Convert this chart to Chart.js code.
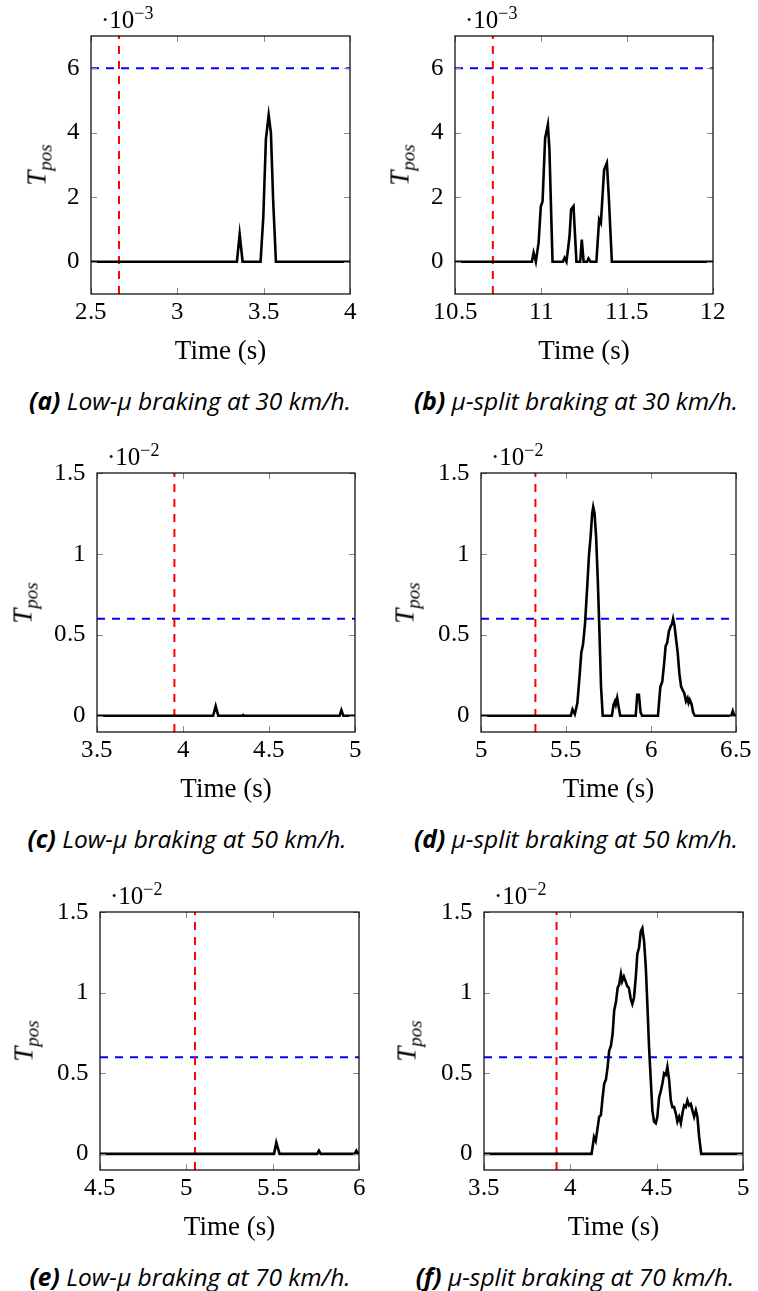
<!DOCTYPE html>
<html>
<head>
<meta charset="utf-8">
<script src="https://cdn.jsdelivr.net/npm/chart.js@4.4.1/dist/chart.umd.min.js"></script>
<style>
  @font-face { font-family: "TickSerif"; src: local("Liberation Serif"), local("LiberationSerif"), local("LiberationSerif-Regular"); }
  html, body { margin: 0; padding: 0; background: #fff; }
  #page { position: relative; width: 758px; height: 1291px; background: #fff; overflow: hidden; }
  canvas { position: absolute; }
  .expo { position: absolute; font-family: "Liberation Serif", serif; font-size: 25px; line-height: 30px; height: 30px; white-space: nowrap; color: #000; }
  .expo span { font-size: 18px; position: relative; top: -9px; }
  .ylab { position: absolute; font-family: "Liberation Serif", serif; font-style: italic; font-size: 27px; white-space: nowrap; color: #000;
          transform: translate(-50%, -50%) rotate(-90deg); }
  .ylab span { font-size: 19px; position: relative; top: 6px; }
  .cap { position: absolute; font-family: "Open Sans", sans-serif; font-style: italic; font-size: 24.5px; white-space: nowrap; color: #000;
         transform: translate(-50%, -50%); }
</style>
</head>
<body>
<div id="page"></div>
<script>
// ---- data (values in axis units: x10^-3 for a,b and x10^-2 for c-f) ----
const aTime = [2.5, 3.345, 3.361, 3.378, 3.482, 3.498, 3.513, 3.529, 3.542, 3.555, 3.571, 4.0];
const aVal  = [0, 0, 0.85, 0, 0, 1.4, 3.8, 4.55, 4.0, 1.9, 0, 0];

const bTime = [10.5, 10.947, 10.957, 10.97, 10.986, 10.999, 11.009, 11.024, 11.040, 11.049, 11.067,
               11.127, 11.137, 11.148, 11.166, 11.175, 11.189, 11.206, 11.228, 11.237, 11.248,
               11.268, 11.276, 11.288, 11.322, 11.338, 11.348, 11.367, 11.383, 11.394, 11.412, 12];
const bVal  = [0, 0, 0.28, 0, 0.59, 1.72, 1.87, 3.83, 4.25, 3.47, 0,
               0, 0.12, 0, 0.79, 1.62, 1.72, 0, 0, 0.69, 0,
               0, 0.1, 0, 0, 1.31, 1.2, 2.85, 3.06, 2.03, 0, 0];

const cTime = [3.5, 4.175, 4.19, 4.205, 4.345, 4.35, 4.355, 4.91, 4.921, 4.932, 5.0];
const cVal  = [0, 0, 0.06, 0, 0, 0.005, 0, 0, 0.035, 0, 0];

const dTime = [5, 5.528, 5.538, 5.552, 5.567, 5.581, 5.59, 5.6, 5.612, 5.625, 5.635, 5.645, 5.654, 5.66,
               5.668, 5.677, 5.687, 5.697, 5.706, 5.716, 5.77, 5.78, 5.788, 5.793, 5.801, 5.809, 5.819,
               5.91, 5.919, 5.929, 5.939, 5.948, 6.041, 6.055, 6.066, 6.076, 6.086, 6.095, 6.105, 6.115,
               6.124, 6.13, 6.138, 6.148, 6.157, 6.167, 6.177, 6.186, 6.196, 6.206, 6.215, 6.221, 6.228,
               6.239, 6.248, 6.258, 6.472, 6.481, 6.49, 6.5];
const dVal  = [0, 0, 0.04, 0.01, 0.08, 0.26, 0.39, 0.44, 0.57, 0.80, 0.99, 1.11, 1.25, 1.29,
               1.25, 1.11, 0.84, 0.51, 0.18, 0, 0, 0.07, 0.09, 0.07, 0.11, 0.06, 0,
               0, 0.13, 0.13, 0.02, 0, 0, 0.18, 0.21, 0.31, 0.43, 0.45, 0.52, 0.55,
               0.57, 0.6, 0.56, 0.47, 0.39, 0.26, 0.18, 0.16, 0.14, 0.09, 0.11, 0.08, 0.1,
               0.07, 0.02, 0, 0, 0.03, 0, 0];

const eTime = [4.5, 5.508, 5.521, 5.54, 5.758, 5.768, 5.778, 5.975, 5.985, 5.995, 6.0];
const eVal  = [0, 0, 0.07, 0, 0, 0.02, 0, 0, 0.02, 0, 0];

const fTime = [3.5, 4.123, 4.137, 4.147, 4.156, 4.167, 4.177, 4.187, 4.196, 4.206, 4.216, 4.225, 4.235,
               4.245, 4.254, 4.264, 4.274, 4.283, 4.293, 4.3, 4.31, 4.32, 4.33, 4.339, 4.35, 4.359,
               4.369, 4.379, 4.388, 4.398, 4.408, 4.417, 4.427, 4.437, 4.446, 4.456, 4.466, 4.475,
               4.485, 4.495, 4.504, 4.514, 4.524, 4.533, 4.543, 4.553, 4.562, 4.572, 4.582, 4.591,
               4.601, 4.611, 4.62, 4.63, 4.64, 4.649, 4.659, 4.669, 4.678, 4.688, 4.698, 4.707,
               4.717, 4.727, 4.736, 4.746, 4.758, 5];
const fVal  = [0, 0, 0.105, 0.08, 0.147, 0.23, 0.24, 0.35, 0.435, 0.46, 0.54, 0.64, 0.67,
               0.745, 0.89, 0.94, 1.03, 1.05, 1.115, 1.07, 1.1, 1.07, 1.04, 1.03, 0.96, 0.93,
               0.97, 1.095, 1.24, 1.28, 1.38, 1.40, 1.32, 1.16, 0.93, 0.66, 0.456, 0.27,
               0.2, 0.19, 0.23, 0.35, 0.39, 0.435, 0.5, 0.49, 0.54, 0.46, 0.33, 0.29,
               0.29, 0.25, 0.2, 0.23, 0.19, 0.25, 0.3, 0.29, 0.33, 0.3, 0.31, 0.27,
               0.23, 0.27, 0.23, 0.105, 0, 0];

// tick labels
const aXTicks = [2.5, 3, 3.5, 4];
const bXTicks = [10.5, 11, 11.5, 12];
const cXTicks = [3.5, 4, 4.5, 5];
const dXTicks = [5, 5.5, 6, 6.5];
const eXTicks = [4.5, 5, 5.5, 6];
const fXTicks = [3.5, 4, 4.5, 5];
const yTicksMilli = [0, 2, 4, 6];
const yTicksCenti = [0, 0.5, 1, 1.5];

// threshold (blue) and brake onset (red) lines
const thresholdMilli = 6;
const thresholdCenti = 0.6;
const redX = [2.662, 10.72, 3.95, 5.32, 5.05, 3.92];

const captions = [
  ['(a)', 'Low-\u03bc braking at 30 km/h.'],
  ['(b)', '\u03bc-split braking at 30 km/h.'],
  ['(c)', 'Low-\u03bc braking at 50 km/h.'],
  ['(d)', '\u03bc-split braking at 50 km/h.'],
  ['(e)', 'Low-\u03bc braking at 70 km/h.'],
  ['(f)', '\u03bc-split braking at 70 km/h.']
];

const SERIF = '"Liberation Serif", serif';
const TICK_SERIF = 'TickSerif, "Liberation Serif", serif';

// layout of the six panels (plot box left, top, right, bottom)
const panels = [
  { time: aTime, val: aVal, xTicks: aXTicks, yTicks: yTicksMilli, yMin: -1, yMax: 7, blue: thresholdMilli, exp: '\u22123', box: [91, 36, 350, 294], col: 0, labOff: 54, capX: 190, capY: 400 },
  { time: bTime, val: bVal, xTicks: bXTicks, yTicks: yTicksMilli, yMin: -1, yMax: 7, blue: thresholdMilli, exp: '\u22123', box: [455, 36, 713, 294], col: 379, labOff: 55, capX: 576, capY: 400 },
  { time: cTime, val: cVal, xTicks: cXTicks, yTicks: yTicksCenti, yMin: -0.1, yMax: 1.5, blue: thresholdCenti, exp: '\u22122', box: [97, 473, 355, 732], col: 0, labOff: 74, capX: 187, capY: 838 },
  { time: dTime, val: dVal, xTicks: dXTicks, yTicks: yTicksCenti, yMin: -0.1, yMax: 1.5, blue: thresholdCenti, exp: '\u22122', box: [481, 473, 739, 732], col: 379, labOff: 76, capX: 576, capY: 838 },
  { time: eTime, val: eVal, xTicks: eXTicks, yTicks: yTicksCenti, yMin: -0.1, yMax: 1.5, blue: thresholdCenti, exp: '\u22122', box: [100, 912, 359, 1170], col: 0, labOff: 76, capX: 190, capY: 1276 },
  { time: fTime, val: fVal, xTicks: fXTicks, yTicks: yTicksCenti, yMin: -0.1, yMax: 1.5, blue: thresholdCenti, exp: '\u22122', box: [484, 912, 743, 1170], col: 379, labOff: 77, capX: 575, capY: 1276 }
];

// frame around the plot and small inward tick marks on all four sides
const frameTicks = {
  id: 'frameTicks',
  afterDraw(chart) {
    const { ctx, chartArea: { left, top, right, bottom }, scales: { x, y } } = chart;
    ctx.save();
    ctx.strokeStyle = '#8c8c8c';
    ctx.lineWidth = 1;
    ctx.beginPath();
    x.ticks.forEach(t => {
      const px = Math.round(x.getPixelForValue(t.value)) + 0.5;
      ctx.moveTo(px, bottom); ctx.lineTo(px, bottom - 6);
      ctx.moveTo(px, top); ctx.lineTo(px, top + 6);
    });
    y.ticks.forEach(t => {
      const py = Math.round(y.getPixelForValue(t.value)) + 0.5;
      ctx.moveTo(left, py); ctx.lineTo(left + 6, py);
      ctx.moveTo(right, py); ctx.lineTo(right - 6, py);
    });
    ctx.stroke();
    ctx.strokeStyle = '#000';
    ctx.lineWidth = 1.2;
    ctx.strokeRect(left, top, right - left, bottom - top);
    ctx.restore();
  }
};

const page = document.getElementById('page');

function drawPanel(p, i) {
  const [L, T, R, B] = p.box;
  const padTop = 40, xAxisH = 80;
  const canvas = document.createElement('canvas');
  canvas.width = 379;
  canvas.height = (B - T) + padTop + xAxisH;
  canvas.style.left = p.col + 'px';
  canvas.style.top = (T - padTop) + 'px';
  page.appendChild(canvas);

  const xMin = p.xTicks[0], xMax = p.xTicks[p.xTicks.length - 1];
  const curve = p.time.map((t, k) => ({ x: t, y: p.val[k] }));

  new Chart(canvas.getContext('2d'), {
    type: 'line',
    data: {
      datasets: [
        { data: curve, borderColor: '#000', borderWidth: 2.6, pointRadius: 0, tension: 0 },
        { data: [{ x: redX[i], y: p.yMin }, { x: redX[i], y: p.yMax }], borderColor: '#ff0000', borderWidth: 2, borderDash: [8, 7], pointRadius: 0 },
        { data: [{ x: xMin, y: p.blue }, { x: xMax, y: p.blue }], borderColor: '#0000ff', borderWidth: 2, borderDash: [8, 7], pointRadius: 0 }
      ]
    },
    options: {
      responsive: false,
      animation: false,
      devicePixelRatio: 1,
      layout: { padding: { left: 0, top: padTop, right: p.col + 379 - R, bottom: 0 } },
      plugins: { legend: { display: false }, tooltip: { enabled: false } },
      scales: {
        x: {
          type: 'linear', min: xMin, max: xMax,
          grid: { display: false, drawTicks: false },
          border: { display: false },
          afterBuildTicks: s => { s.ticks = p.xTicks.map(v => ({ value: v })); },
          afterFit: s => { s.height = xAxisH; },
          ticks: { padding: 6, color: '#000', maxRotation: 0, autoSkip: false,
                   font: { family: TICK_SERIF, size: 25, lineHeight: 1 }, callback: v => String(v) },
          title: { display: true, text: 'Time (s)', color: '#000',
                   font: { family: SERIF, size: 27, lineHeight: 1 }, padding: { top: 0, bottom: 9 } }
        },
        y: {
          type: 'linear', min: p.yMin, max: p.yMax,
          grid: { display: false, drawTicks: false },
          border: { display: false },
          afterBuildTicks: s => { s.ticks = p.yTicks.map(v => ({ value: v })); },
          afterFit: s => { s.width = L - p.col; },
          ticks: { padding: 11, color: '#000', autoSkip: false,
                   font: { family: TICK_SERIF, size: 25, lineHeight: 1 }, callback: v => String(v) }
        }
      }
    },
    plugins: [frameTicks]
  });

  const expo = document.createElement('div');
  expo.className = 'expo';
  expo.style.left = (L + 10) + 'px';
  expo.style.top = (T - 31) + 'px';
  expo.innerHTML = '\u00b710<span>' + p.exp + '</span>';
  page.appendChild(expo);

  const ylab = document.createElement('div');
  ylab.className = 'ylab';
  ylab.style.left = (L - p.labOff) + 'px';
  ylab.style.top = ((T + B) / 2) + 'px';
  ylab.innerHTML = 'T<span>pos</span>';
  page.appendChild(ylab);

  const cap = document.createElement('div');
  cap.className = 'cap';
  cap.style.left = p.capX + 'px';
  cap.style.top = p.capY + 'px';
  cap.innerHTML = '<b>' + captions[i][0] + '</b> ' + captions[i][1];
  page.appendChild(cap);
}

document.fonts.load('25px TickSerif', '0123456789.')
  .catch(() => {})
  .then(() => panels.forEach(drawPanel));
</script>
</body>
</html>
